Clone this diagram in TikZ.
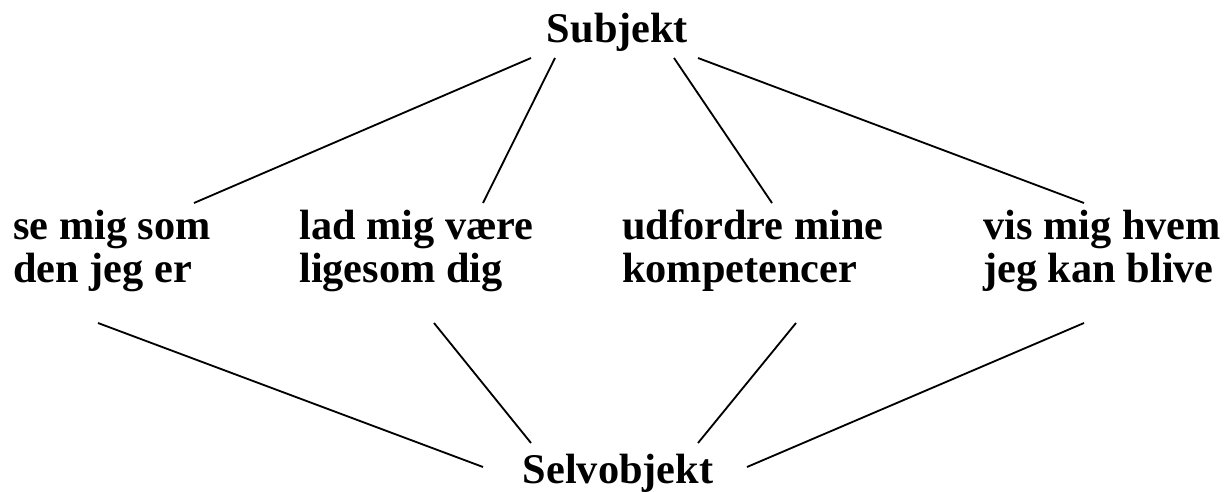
\documentclass[tikz,border=0pt]{standalone}
\usepackage{fontspec}
\setmainfont{Liberation Serif}
\usepackage{tikz}
\usetikzlibrary{calc}

\begin{document}
\begin{tikzpicture}[x=0.025cm,y=-0.025cm]
            \tikzstyle{every node}+=[inner sep=0pt,font=\fontsize{30.1pt}{30.6pt}\selectfont\bfseries]
            \tikzstyle{wish}=[anchor=base west,align=left]
            \tikzstyle{bond}=[black,line width=1.3pt]
            \useasboundingbox (0,0) rectangle (1231,492);
            \node (subj) at (617.5,43) [anchor=base] {Subjekt};
            \node (selv) at (618,483) [anchor=base] {Selvobjekt};
            \node (w1) at (13,283) [wish] {se mig som\\den jeg er};
            \node (w2) at (299,283) [wish] {lad mig være\\ligesom dig};
            \node (w3) at (622,283) [wish] {udfordre mine\\kompetencer};
            \node (w4) at (983,283) [wish] {vis mig hvem\\jeg kan blive};
            \draw [bond] ($(subj.base)+(-86.5,15)$) -- ($(w1.base west)+(181,-80)$);
            \draw [bond] ($(subj.base)+(-62.5,15)$) -- ($(w2.base west)+(184,-80)$);
            \draw [bond] ($(subj.base)+(56.5,15)$) -- ($(w3.base west)+(150,-80)$);
            \draw [bond] ($(subj.base)+(80.5,15)$) -- ($(w4.base west)+(101,-80)$);
            \draw [bond] ($(w1.base west)+(85,40)$) -- ($(selv.base)+(-135,-16)$);
            \draw [bond] ($(w2.base west)+(135,40)$) -- ($(selv.base)+(-87,-40)$);
            \draw [bond] ($(w3.base west)+(174,40)$) -- ($(selv.base)+(80,-40)$);
            \draw [bond] ($(w4.base west)+(101,40)$) -- ($(selv.base)+(129,-16)$);
\end{tikzpicture}
\end{document}
